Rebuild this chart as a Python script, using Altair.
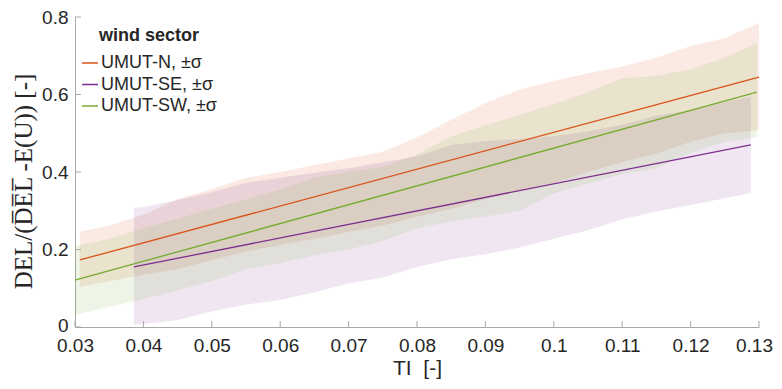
import altair as alt
import pandas as pd

sectors = ["UMUT-N, ±σ", "UMUT-SE, ±σ", "UMUT-SW, ±σ"]
line_colors = ["#D95319", "#7E2F8E", "#77AC30"]

# fitted lines (end points)
n_line_ti = [0.0307, 0.130]
n_line_val = [0.173, 0.645]
se_line_ti = [0.0386, 0.1288]
se_line_val = [0.155, 0.470]
sw_line_ti = [0.030, 0.1297]
sw_line_val = [0.121, 0.606]

# +/- sigma bands
n_ti = [0.0307, 0.035, 0.040, 0.045, 0.050, 0.055, 0.060, 0.065, 0.070, 0.075, 0.080,
        0.085, 0.090, 0.095, 0.100, 0.105, 0.110, 0.115, 0.120, 0.125, 0.130]
n_hi = [0.246, 0.262, 0.290, 0.330, 0.356, 0.385, 0.400, 0.418, 0.435, 0.452, 0.490,
        0.535, 0.578, 0.612, 0.635, 0.655, 0.672, 0.695, 0.725, 0.745, 0.785]
n_lo = [0.103, 0.118, 0.135, 0.150, 0.172, 0.195, 0.212, 0.228, 0.245, 0.262, 0.285,
        0.305, 0.330, 0.352, 0.372, 0.400, 0.425, 0.448, 0.478, 0.500, 0.508]

se_ti = [0.0386, 0.040, 0.045, 0.050, 0.055, 0.060, 0.065, 0.070, 0.075, 0.080, 0.085,
         0.090, 0.095, 0.100, 0.105, 0.110, 0.115, 0.120, 0.125, 0.1288]
se_hi = [0.307, 0.310, 0.328, 0.348, 0.372, 0.385, 0.398, 0.410, 0.425, 0.440, 0.470,
         0.480, 0.485, 0.492, 0.505, 0.522, 0.545, 0.560, 0.580, 0.594]
se_lo = [0.005, 0.008, 0.018, 0.040, 0.058, 0.070, 0.090, 0.112, 0.128, 0.155, 0.175,
         0.188, 0.205, 0.228, 0.250, 0.278, 0.298, 0.315, 0.332, 0.346]

sw_ti = [0.030, 0.035, 0.040, 0.045, 0.050, 0.055, 0.060, 0.065, 0.070, 0.075, 0.080,
         0.085, 0.090, 0.095, 0.100, 0.105, 0.110, 0.115, 0.120, 0.125, 0.1297]
sw_hi = [0.209, 0.228, 0.255, 0.280, 0.305, 0.330, 0.355, 0.385, 0.400, 0.413, 0.445,
         0.492, 0.520, 0.548, 0.575, 0.605, 0.642, 0.648, 0.665, 0.695, 0.733]
sw_lo = [0.031, 0.052, 0.072, 0.095, 0.118, 0.150, 0.165, 0.185, 0.200, 0.222, 0.255,
         0.272, 0.285, 0.300, 0.345, 0.370, 0.395, 0.410, 0.450, 0.478, 0.490]

x_ticks = [0.03, 0.04, 0.05, 0.06, 0.07, 0.08, 0.09, 0.10, 0.11, 0.12, 0.13]
y_ticks = [0.0, 0.2, 0.4, 0.6, 0.8]

bands = pd.concat([
    pd.DataFrame({"band": sectors[0], "TI": n_ti, "lo": n_lo, "hi": n_hi}),
    pd.DataFrame({"band": sectors[1], "TI": se_ti, "lo": se_lo, "hi": se_hi}),
    pd.DataFrame({"band": sectors[2], "TI": sw_ti, "lo": sw_lo, "hi": sw_hi}),
])
lines = pd.concat([
    pd.DataFrame({"sector": sectors[0], "TI": n_line_ti, "val": n_line_val}),
    pd.DataFrame({"sector": sectors[1], "TI": se_line_ti, "val": se_line_val}),
    pd.DataFrame({"sector": sectors[2], "TI": sw_line_ti, "val": sw_line_val}),
])

W, H = 684, 310
AX = "#A8A8A8"
TXT = "#262626"

xscale = alt.Scale(domain=[0.03, 0.13], nice=False, zero=False)
yscale = alt.Scale(domain=[0, 0.8], nice=False)
cscale = alt.Scale(domain=sectors, range=line_colors)

xaxis = alt.Axis(values=x_ticks, format="~g", tickSize=0, title="TI\u00a0\u00a0[-]",
                 labelFontSize=19, titleFontSize=21, titleFontWeight="normal",
                 labelFlush=False, labelOverlap=False,
                 labelOffset={"condition": {"test": "datum.value > 0.125", "value": -5},
                              "value": 0},
                 labelPadding=9, titlePadding=2, grid=False)
yaxis = alt.Axis(values=y_ticks, format="~g", tickSize=0,
                 title="DEL/(D\u0305E\u0305L\u0305 -E(U)) [-]",
                 titleFont="Liberation Serif", titleFontSize=25, titleFontWeight="normal",
                 titleX=-52, titleY=164, titleAngle=270, titleAlign="center",
                 titleBaseline="middle", labelFlush=False, labelOverlap=False,
                 labelOffset={"condition": {"test": "datum.value < 0.05", "value": -2},
                              "value": 0},
                 labelFontSize=19, labelPadding=7, grid=False)

area = alt.Chart(bands).mark_area(opacity=0.12, interpolate="linear").encode(
    x=alt.X("TI:Q", scale=xscale, axis=xaxis),
    y=alt.Y("lo:Q", scale=yscale, axis=yaxis),
    y2="hi:Q",
    fill=alt.Fill("band:N", scale=cscale, legend=None),
    detail="band:N",
)

line = alt.Chart(lines).mark_line(strokeWidth=1.3).encode(
    x=alt.X("TI:Q", scale=xscale),
    y=alt.Y("val:Q", scale=yscale),
    color=alt.Color("sector:N", scale=cscale, legend=alt.Legend(
        title="wind sector", orient="none", legendX=6, legendY=10, padding=0,
        symbolType="stroke", symbolSize=256, symbolStrokeWidth=1.5,
        labelFontSize=18, titleFontSize=18, titleFontWeight="bold",
        titleAnchor="middle", labelOffset=2, rowPadding=3.5, titlePadding=9,
        labelColor=TXT, titleColor=TXT, labelFont="Liberation Sans",
        titleFont="Liberation Sans")),
)

xt = alt.Chart(pd.DataFrame({"t": x_ticks})).mark_rule(color=AX, strokeWidth=1).encode(
    x=alt.X("t:Q", scale=xscale), y=alt.value(H), y2=alt.value(H - 6))
yt = alt.Chart(pd.DataFrame({"t": y_ticks})).mark_rule(color=AX, strokeWidth=1).encode(
    y=alt.Y("t:Q", scale=yscale), x=alt.value(0), x2=alt.value(6))

chart = alt.layer(area, line, xt, yt).properties(
    width=W, height=H,
    autosize=alt.AutoSizeParams(type="none"),
    padding={"left": 67, "top": 9, "right": 15, "bottom": 54},
).resolve_legend(
    fill="independent", color="independent"
).configure_view(stroke=None).configure_axis(
    domainColor=AX, labelColor=TXT, titleColor=TXT,
    labelFont="Liberation Sans", titleFont="Liberation Sans",
)

chart.save("out.html", embed_options={"renderer": "svg", "actions": False})
